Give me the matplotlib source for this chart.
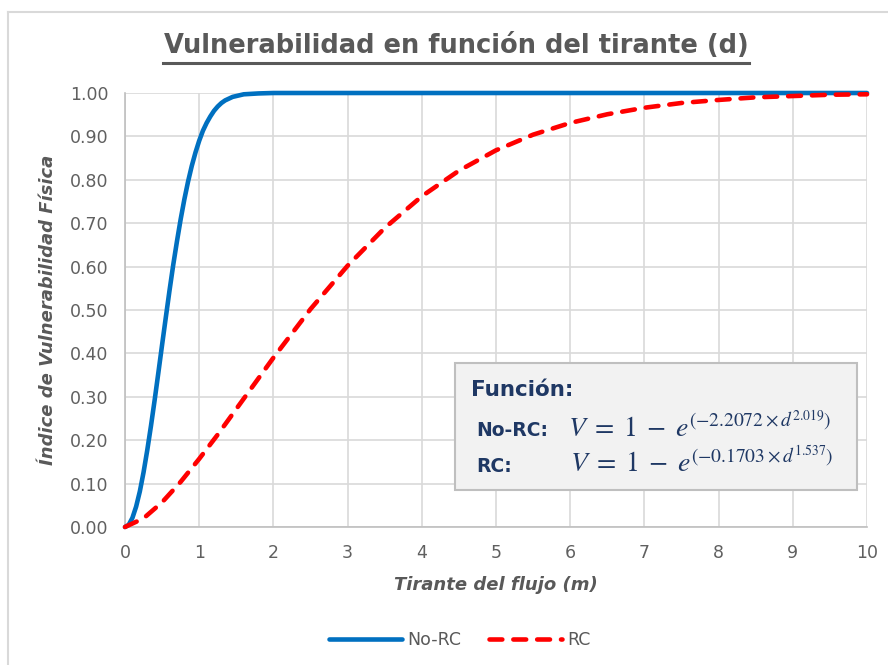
import matplotlib
matplotlib.use("Agg")
import matplotlib.pyplot as plt
from matplotlib.lines import Line2D
from matplotlib.patches import Rectangle

# ---- data ----
d_norc = [0.0, 0.05, 0.1, 0.15, 0.2, 0.25, 0.3, 0.35, 0.4, 0.45, 0.5, 0.55, 0.6,
          0.65, 0.7, 0.75, 0.8, 0.85, 0.9, 0.95, 1.0, 1.05, 1.1, 1.15, 1.2, 1.25,
          1.3, 1.35, 1.4, 1.45, 1.5, 1.55, 1.6, 1.7, 1.8, 2.0, 2.5, 3, 4, 5, 6,
          7, 8, 9, 10]
v_norc = [0.0, 0.005, 0.021, 0.047, 0.082, 0.126, 0.177, 0.233, 0.293, 0.356,
          0.420, 0.483, 0.545, 0.604, 0.658, 0.709, 0.755, 0.796, 0.832, 0.863,
          0.890, 0.913, 0.931, 0.946, 0.959, 0.969, 0.977, 0.983, 0.987, 0.991,
          0.993, 0.995, 0.997, 0.998, 0.999, 1.0, 1.0, 1.0, 1.0, 1.0, 1.0, 1.0,
          1.0, 1.0, 1.0]

d_rc = [0.0, 0.25, 0.5, 0.75, 1.0, 1.25, 1.5, 1.75, 2.0, 2.5, 3.0, 3.5, 4.0, 4.5,
        5.0, 5.5, 6.0, 6.5, 7.0, 7.5, 8.0, 8.5, 9.0, 9.5, 10.0]
v_rc = [0.0, 0.020, 0.057, 0.104, 0.157, 0.213, 0.272, 0.331, 0.390, 0.502,
        0.602, 0.689, 0.762, 0.821, 0.868, 0.904, 0.931, 0.951, 0.966, 0.977,
        0.984, 0.990, 0.993, 0.996, 0.997]

x_ticks = list(range(0, 11))
y_ticks = [i / 10 for i in range(0, 11)]
y_ticklabels = [f"{v:.2f}" for v in y_ticks]

title = "Vulnerabilidad en función del tirante (d)"
xlabel = "Tirante del flujo (m)"
ylabel = "Índice de Vulnerabilidad Física"
series_names = ["No-RC", "RC"]

# ---- figure ----
plt.rcParams['font.family'] = ['DejaVu Sans']
plt.rcParams['mathtext.fontset'] = 'stix'

W, H = 888, 665
fig = plt.figure(figsize=(W / 100, H / 100), dpi=100)
fig.patch.set_facecolor("white")

# outer chart border (left and top visible)
fig.add_artist(Line2D([8 / W, 8 / W], [0, 1 - 12 / H], transform=fig.transFigure,
                      color="#d9d9d9", lw=1.5))
fig.add_artist(Line2D([8 / W, 1], [1 - 12 / H, 1 - 12 / H], transform=fig.transFigure,
                      color="#d9d9d9", lw=1.5))

ax = fig.add_axes([125 / W, 1 - 527 / H, (867 - 125) / W, (527 - 93) / H])
ax.set_xlim(0, 10)
ax.set_ylim(0, 1)
ax.set_xticks(x_ticks)
ax.set_yticks(y_ticks)
ax.set_yticklabels(y_ticklabels)
ax.grid(True, color="#d9d9d9", lw=1.2)
ax.set_axisbelow(True)
for s in ["top", "right"]:
    ax.spines[s].set_visible(False)
for s in ["left", "bottom"]:
    ax.spines[s].set_color("#bfbfbf")
    ax.spines[s].set_linewidth(1.2)
ax.tick_params(axis="y", length=0, labelsize=12.5, pad=12)
ax.tick_params(axis="x", length=0, labelsize=12.5, pad=12)
for lab in ax.get_xticklabels() + ax.get_yticklabels():
    lab.set_color("#606060")

ax.plot(d_norc, v_norc, color="#0070C0", lw=3.3, solid_capstyle="round",
        solid_joinstyle="round", label=series_names[0], clip_on=False, zorder=3)
ax.plot(d_rc, v_rc, color="#FF0000", lw=3.3, ls=(0, (2.8, 2.4)),
        dash_capstyle="round", label=series_names[1], clip_on=False, zorder=4)

ax.set_xlabel(xlabel, fontsize=13, fontstyle="italic", fontweight="bold",
              color="#595959", labelpad=10)
ax.set_ylabel(ylabel, fontsize=13, fontstyle="italic", fontweight="bold",
              color="#595959", labelpad=9)

fig.text(456 / W, 1 - 46 / H, title, ha="center", va="center", fontsize=18.5,
         fontweight="bold", color="#595959")
fig.add_artist(Line2D([163 / W, 749 / W], [1 - 63 / H, 1 - 63 / H],
                      transform=fig.transFigure, color="#595959", lw=2.2))

# function box
box = Rectangle((455 / W, 1 - 490 / H), (857 - 455) / W, (490 - 363) / H,
                transform=fig.transFigure, facecolor="#f2f2f2",
                edgecolor="#bfbfbf", lw=1.5, zorder=5)
fig.add_artist(box)
navy = "#1F3864"
fig.text(471 / W, 1 - 390 / H, "Función:", fontsize=15.5, fontweight="bold",
         color=navy, va="center", ha="left", zorder=6)
fig.text(476 / W, 1 - 430 / H, "No-RC:", fontsize=13.5, fontweight="bold",
         color=navy, va="center", ha="left", zorder=6)
fig.text(476 / W, 1 - 466 / H, "RC:", fontsize=13.5, fontweight="bold",
         color=navy, va="center", ha="left", zorder=6)
eq1 = r"$V\;=\;1\;-\;e^{\left(-2.2072\times d^{2.019}\right)}$"
eq2 = r"$V\;=\;1\;-\;e^{\left(-0.1703\times d^{1.537}\right)}$"
fig.text(568 / W, 1 - 428 / H, eq1, fontsize=20, color=navy, va="center",
         ha="left", zorder=6)
fig.text(570 / W, 1 - 463 / H, eq2, fontsize=20, color=navy, va="center",
         ha="left", zorder=6)

leg = fig.legend(handles=ax.get_lines(), labels=series_names, loc="center",
                 bbox_to_anchor=(460 / W, 1 - 640 / H), ncol=2, frameon=False,
                 fontsize=12.5, handlelength=4.2, columnspacing=1.6,
                 handletextpad=0.3)
for t in leg.get_texts():
    t.set_color("#595959")

fig.savefig("out.png", dpi=100, facecolor="white")
